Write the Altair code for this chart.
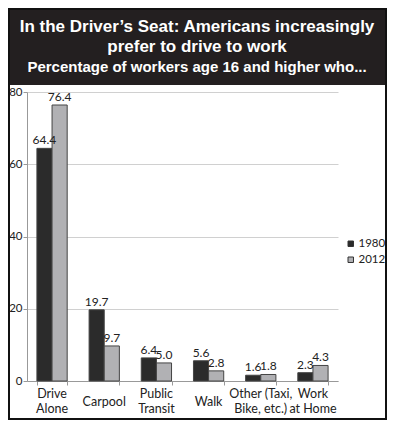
import altair as alt
import pandas as pd

categories = ["Drive|Alone", "Carpool", "Public|Transit", "Walk", "Other (Taxi,|Bike, etc.)", "Work|at Home"]
years = ["1980", "2012"]
values_1980 = [64.4, 19.7, 6.4, 5.6, 1.6, 2.3]
values_2012 = [76.4, 9.7, 5.0, 2.8, 1.8, 4.3]
y_ticks = [0, 20, 40, 60, 80]
title_lines = ["In the Driver\u2019s Seat: Americans increasingly", "prefer to drive to work"]
subtitle = "Percentage of workers age 16 and higher who..."
bar_colors = ["#2b2b2b", "#b1b1b4"]

rows = []
for c, a, b in zip(categories, values_1980, values_2012):
    rows.append({"mode": c, "year": years[0], "pct": a, "label": f"{a:.1f}"})
    rows.append({"mode": c, "year": years[1], "pct": b, "label": f"{b:.1f}"})
df = pd.DataFrame(rows)
df_cat = pd.DataFrame({"mode": categories})

W, H = 311, 289
FONT = "Lato"
TFONT = "Liberation Sans"

x_scale = alt.Scale(paddingInner=0.42, paddingOuter=0.19)
x_enc = alt.X(
    "mode:N", sort=categories, title=None, scale=x_scale,
    axis=alt.Axis(labels=False, tickBand="extent", tickSize=4, grid=False),
)
y_enc = alt.Y(
    "pct:Q", title=None,
    scale=alt.Scale(domain=[0, 80], nice=False),
    axis=alt.Axis(values=y_ticks, tickSize=4, labelPadding=1, grid=True,
                  labelFontSize=11.5, labelColor="#222", labelFont=FONT),
)
xo = alt.XOffset("year:N", sort=years, scale=alt.Scale(paddingInner=0, paddingOuter=0))

bars = alt.Chart(df).mark_bar(stroke="#444", strokeWidth=1).encode(
    x=x_enc, y=y_enc, xOffset=xo,
    color=alt.Color("year:N", sort=years,
                    scale=alt.Scale(domain=years, range=bar_colors),
                    legend=alt.Legend(orient="none", legendX=318, legendY=146, title=None,
                                      symbolType="square", symbolSize=30,
                                      symbolStrokeColor="#333", symbolStrokeWidth=1,
                                      labelFontSize=11.5, labelFont=FONT, labelColor="#222",
                                      rowPadding=3, labelOffset=2, padding=0)),
)
labels = alt.Chart(df).mark_text(dy=-8, fontSize=12, font=FONT, color="#222").encode(
    x=alt.X("mode:N", sort=categories), xOffset=xo, y="pct:Q", text="label:N",
)

cat_two = alt.Chart(df_cat).transform_filter("indexof(datum.mode, '|') >= 0").mark_text(
    lineBreak="|", lineHeight=15, baseline="top", fontSize=12.5, font=FONT, color="#222",
).encode(x=alt.X("mode:N", sort=categories), y=alt.value(H + 7), text="mode:N")
cat_one = alt.Chart(df_cat).transform_filter("indexof(datum.mode, '|') < 0").mark_text(
    baseline="middle", fontSize=12.5, font=FONT, color="#222",
).encode(x=alt.X("mode:N", sort=categories), y=alt.value(H + 21), text="mode:N")

one = pd.DataFrame({"k": [0]})
header = alt.Chart(one).mark_rect(color="#231f20").encode(
    x=alt.value(-19), x2=alt.value(360), y=alt.value(-84), y2=alt.value(-7),
)
border = alt.Chart(one).mark_rect(fillOpacity=0, stroke="#111", strokeWidth=2).encode(
    x=alt.value(-18), x2=alt.value(359), y=alt.value(-83), y2=alt.value(H + 38),
)
t1 = alt.Chart(one).mark_text(font=TFONT, fontSize=17, fontWeight="bold", color="white").encode(
    x=alt.value(170), y=alt.value(-65), text=alt.value(title_lines[0]))
t2 = alt.Chart(one).mark_text(font=TFONT, fontSize=17, fontWeight="bold", color="white").encode(
    x=alt.value(170), y=alt.value(-45), text=alt.value(title_lines[1]))
t3 = alt.Chart(one).mark_text(font=TFONT, fontSize=15, fontWeight="bold", color="white").encode(
    x=alt.value(170), y=alt.value(-25), text=alt.value(subtitle))

chart = alt.layer(header, border, t1, t2, t3, bars, labels, cat_two, cat_one).properties(
    width=W, height=H,
    autosize=alt.AutoSizeParams(type="none"),
    padding={"left": 19, "top": 84, "right": 49, "bottom": 41},
    background="white",
).configure_view(strokeWidth=0).configure_axis(
    domainColor="#999", tickColor="#999", gridColor="#d0d0d0", zindex=1,
)

chart.save("out.html", embed_options={"renderer": "svg", "actions": False})
